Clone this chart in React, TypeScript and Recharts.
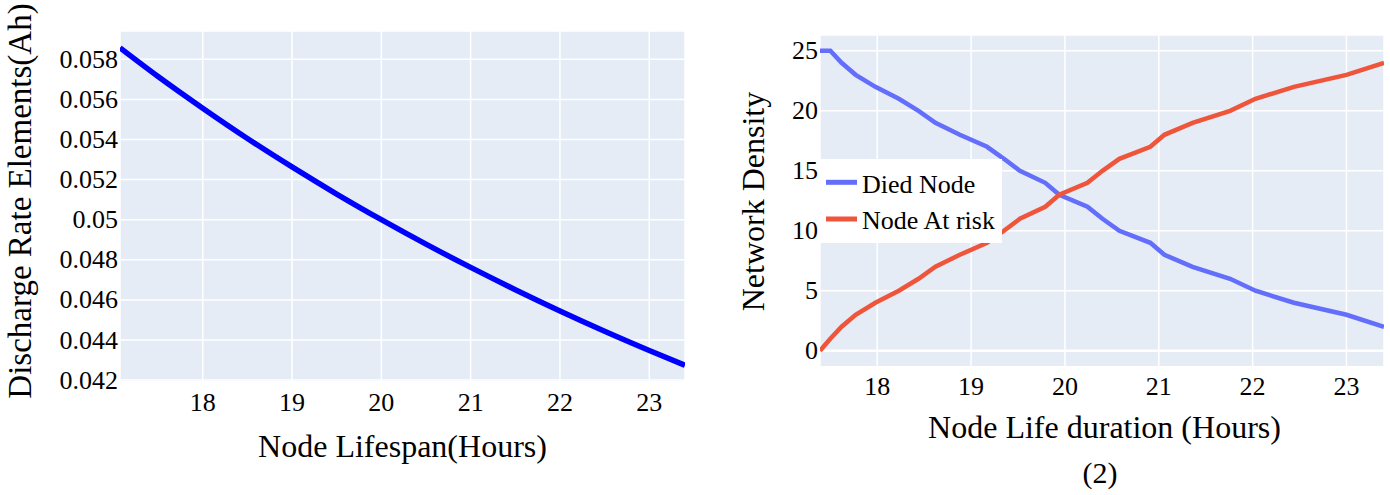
import React from "react";
import { CartesianGrid, Legend, Line, LineChart, ReferenceLine, XAxis, YAxis } from "recharts";

// left panel: discharge rate vs node lifespan
const lifespanHours = [17.074, 17.5, 18, 18.5, 19, 19.5, 20, 20.5, 21, 21.5, 22, 22.5, 23, 23.4];
const dischargeRate = [0.05857, 0.05714, 0.05556, 0.05405, 0.05263, 0.05128, 0.05, 0.04878, 0.04762, 0.04651, 0.04545, 0.04444, 0.04348, 0.04274];
const leftXTicks = [18, 19, 20, 21, 22, 23];
const leftYTicks = [0.042, 0.044, 0.046, 0.048, 0.05, 0.052, 0.054, 0.056, 0.058];

// right panel: network density vs node life duration
const durationHours = [17.39, 17.5, 17.62, 17.77, 17.98, 18.23, 18.44, 18.62, 18.88, 19.17, 19.35, 19.52, 19.79, 19.94, 20.24, 20.4, 20.58, 20.91, 21.06, 21.36, 21.76, 22.03, 22.44, 23.0, 23.4];
const diedNode = [25, 25, 24, 23, 22, 21, 20, 19, 18, 17, 16, 15, 14, 13, 12, 11, 10, 9, 8, 7, 6, 5, 4, 3, 2];
const nodeAtRisk = [0, 1, 2, 3, 4, 5, 6, 7, 8, 9, 10, 11, 12, 13, 14, 15, 16, 17, 18, 19, 20, 21, 22, 23, 24];
const rightXTicks = [18, 19, 20, 21, 22, 23];
const rightYTicks = [0, 5, 10, 15, 20, 25];

const serif = '"Liberation Serif", "Times New Roman", serif';
const plotBg = "#E5ECF6";

const leftData = lifespanHours.map((h, i) => ({ h, rate: dischargeRate[i] }));
const rightData = durationHours.map((h, i) => ({ h, died: diedNode[i], risk: nodeAtRisk[i] }));

const xTick = (p: any) => (
  <text
    x={p.x}
    y={p.y}
    dy="0.7em"
    textAnchor="middle"
    fill="#000"
    style={{ fontFamily: serif, fontSize: 26 }}
  >
    {String(p.payload.value)}
  </text>
);

const yTick = (p: any) => (
  <text
    x={p.x}
    y={p.y}
    dy="0.33em"
    textAnchor="end"
    fill="#000"
    style={{ fontFamily: serif, fontSize: 26 }}
  >
    {String(p.payload.value)}
  </text>
);

function Title({ tx, ty, title, size, rotate }: { tx: number; ty: number; title: string; size: number; rotate?: boolean }) {
  return (
    <text
      x={tx}
      y={ty}
      textAnchor="middle"
      fill="#000"
      style={{ fontFamily: serif, fontSize: size }}
      transform={rotate ? `rotate(-90, ${tx}, ${ty})` : undefined}
    >
      {title}
    </text>
  );
}

function LegendBox({ payload }: any) {
  const items = payload || [];
  return (
    <svg width={182} height={84} style={{ display: "block" }}>
      <rect x={0} y={0} width={182} height={84} fill="#fff" />
      {items.map((item: any, i: number) => {
        const cy = 23.3 + i * 36.7;
        return (
          <g key={item.value}>
            <line x1={6} x2={37} y1={cy} y2={cy} stroke={item.color} strokeWidth={5} />
            <text x={42} y={cy + 10.4} fill="#000" style={{ fontFamily: serif, fontSize: 26 }}>
              {item.value}
            </text>
          </g>
        );
      })}
    </svg>
  );
}

export default function App() {
  return (
    <div style={{ position: "absolute", left: 0, top: 0, width: 1390, height: 495, background: "#fff", fontFamily: serif }}>
      <div style={{ position: "absolute", left: 0, top: 0 }}>
        <LineChart width={700} height={495} data={leftData} margin={{ top: 31, right: 15, bottom: 0, left: 0 }}>
          <CartesianGrid fill={plotBg} fillOpacity={1} stroke="#fff" strokeWidth={1.5} />
          <XAxis
            dataKey="h"
            type="number"
            domain={[17.074, 23.4]}
            allowDataOverflow
            ticks={leftXTicks}
            axisLine={false}
            tickLine={false}
            tickSize={0}
            tickMargin={11}
            height={113.3}
            tick={xTick}
            label={<Title tx={402.5} ty={456.5} title="Node Lifespan(Hours)" size={32} />}
          />
          <YAxis
            type="number"
            domain={[0.04192, 0.05941]}
            allowDataOverflow
            ticks={leftYTicks}
            axisLine={false}
            tickLine={false}
            tickSize={0}
            tickMargin={2}
            width={120}
            tick={yTick}
            label={<Title tx={31} ty={201} title="Discharge Rate Elements(Ah)" size={33} rotate />}
          />
          <Line dataKey="rate" type="monotone" stroke="#0000ff" strokeWidth={5.5} dot={false} isAnimationActive={false} />
        </LineChart>
      </div>
      <div style={{ position: "absolute", left: 700, top: 0 }}>
        <LineChart width={690} height={495} data={rightData} margin={{ top: 35, right: 6, bottom: 0, left: 0 }}>
          <CartesianGrid fill={plotBg} fillOpacity={1} stroke="#fff" strokeWidth={1.5} />
          <XAxis
            dataKey="h"
            type="number"
            domain={[17.39, 23.4]}
            allowDataOverflow
            ticks={rightXTicks}
            axisLine={false}
            tickLine={false}
            tickSize={0}
            tickMargin={10}
            height={128.3}
            tick={xTick}
            label={<Title tx={404.5} ty={438} title="Node Life duration (Hours)" size={32} />}
          />
          <YAxis
            type="number"
            domain={[-1.33, 26.32]}
            allowDataOverflow
            ticks={rightYTicks}
            axisLine={false}
            tickLine={false}
            tickSize={0}
            tickMargin={2}
            width={120}
            tick={yTick}
            label={<Title tx={64} ty={201.5} title="Network Density" size={32} rotate />}
          />
          <ReferenceLine y={0} stroke="#fff" strokeWidth={2.5} />
          <Legend
            layout="vertical"
            align="center"
            verticalAlign="middle"
            content={<LegendBox />}
            wrapperStyle={{ left: 120, top: 159, width: 182, height: 84 }}
          />
          <Line name="Died Node" dataKey="died" type="linear" stroke="#636efa" strokeWidth={4.5} dot={false} isAnimationActive={false} />
          <Line name="Node At risk" dataKey="risk" type="linear" stroke="#EF553B" strokeWidth={4.5} dot={false} isAnimationActive={false} />
        </LineChart>
        <div style={{ position: "absolute", left: 0, top: 0, pointerEvents: "none" }}>
          <svg width={690} height={495}>
            <Title tx={400} ty={483} title="(2)" size={30} />
          </svg>
        </div>
      </div>
    </div>
  );
}
